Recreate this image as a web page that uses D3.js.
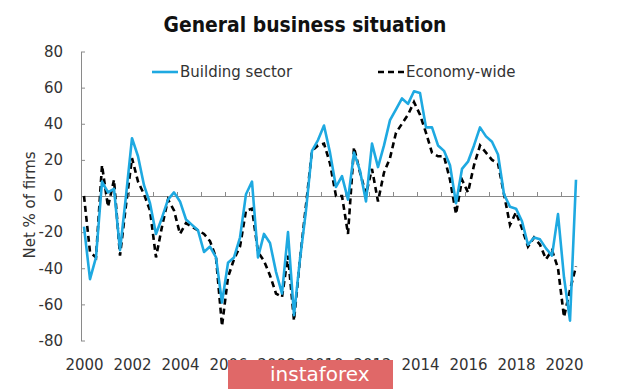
<!DOCTYPE html>
<html>
<head>
<meta charset="utf-8">
<script src="https://d3js.org/d3.v7.min.js"></script>
<style>
  body { margin: 0; background: #fff; }
  svg { display: block; font-family: "DejaVu Sans", sans-serif; }
</style>
</head>
<body>
<svg></svg>
<script>
    // quarterly, 2000Q1 .. 2020Q3
    const firstYear = 2000;
    const building = [
        -17, -46, -34, 8, 2, 4, -30, 0, 32, 22, 6, -4, -21, -12, -2, 2,
        -3, -13, -16, -19, -31, -28, -34, -59, -37, -34, -23, 1, 8, -34, -21, -26,
        -42, -54, -20, -66, -35, -8, 25, 31, 39, 24, 5, 11, -2, 24, 14, -3,
        29, 16, 28, 42, 48, 54, 51, 58, 57, 38, 38, 28, 25, 17, -4, 15,
        19, 28, 38, 33, 30, 23, 1, -6, -7, -14, -27, -23, -24, -29, -33, -10,
        -45, -69, 9
    ];
    const economy = [
        0, -31, -34, 17, -6, 9, -33, -5, 21, 8, 1, -8, -34, -17, -2, -8,
        -21, -15, -17, -19, -21, -25, -34, -72, -45, -35, -28, -8, -7, -31, -36, -44,
        -54, -56, -33, -69, -35, -5, 25, 28, 29, 18, 0, 0, -21, 27, 13, 1,
        15, -3, 13, 21, 35, 40, 45, 52, 45, 35, 24, 22, 22, 9, -10, 9,
        2, 17, 28, 24, 20, 18, 1, -16, -9, -18, -28, -23, -27, -35, -30, -40,
        -67, -52, -39
    ];
    const seriesNames = ["Building sector", "Economy-wide"];
    const yearLabels = [2000, 2002, 2004, 2006, 2008, 2010, 2012, 2014, 2016, 2018, 2020];
    const yTicks = [-80, -60, -40, -20, 0, 20, 40, 60, 80];

    const width = 620, height = 389;
    const blue = "#1ea9e1";
    const axisGrey = "#8a8a8a";

    const svg = d3.select("svg")
        .attr("width", width)
        .attr("height", height);

    // index of quarter -> x, one category per quarter
    const x = d3.scaleLinear()
        .domain([-0.5, building.length - 0.5])
        .range([81, 579]);
    const y = d3.scaleLinear()
        .domain([-80, 80])
        .range([340.5, 51.5]);
    const qIndex = yr => (yr - firstYear) * 4;

    // y axis, ticks pointing inward
    const yAxis = svg.append("g")
        .attr("transform", `translate(${x(-0.5)},0)`)
        .call(d3.axisLeft(y).tickValues(yTicks).tickSizeInner(-4).tickSizeOuter(0).tickPadding(18)
            .tickFormat(d => String(d)));
    yAxis.selectAll("path, line").attr("stroke", axisGrey);
    yAxis.selectAll("text").attr("font-size", 15).attr("fill", "#333").attr("font-family", "DejaVu Sans");

    // axis along zero, year ticks between categories
    const years = d3.range(firstYear, 2021);
    const zeroAxis = svg.append("g")
        .attr("transform", `translate(0,${y(0)})`)
        .call(d3.axisTop(x).tickValues(years.map(yr => qIndex(yr) - 0.5)).tickSize(4).tickSizeOuter(0).tickFormat(""));
    zeroAxis.selectAll("path, line").attr("stroke", axisGrey);

    // year labels at the bottom
    const xLabels = svg.append("g")
        .attr("transform", "translate(0,359)")
        .call(d3.axisBottom(x).tickValues(yearLabels.map(qIndex)).tickSize(0).tickPadding(0)
            .tickFormat((d, i) => yearLabels[i]));
    xLabels.select(".domain").remove();
    xLabels.selectAll("text").attr("font-size", 15).attr("fill", "#333").attr("font-family", "DejaVu Sans");

    const line = d3.line()
        .x((d, i) => x(i))
        .y(d => y(d));

    svg.append("path")
        .datum(economy)
        .attr("fill", "none")
        .attr("stroke", "#000")
        .attr("stroke-width", 2.6)
        .attr("stroke-dasharray", "6,4")
        .attr("d", line);

    svg.append("path")
        .datum(building)
        .attr("fill", "none")
        .attr("stroke", blue)
        .attr("stroke-width", 2.6)
        .attr("stroke-linejoin", "round")
        .attr("d", line);

    // legend
    const legend = [
        {name: seriesNames[0], x: 152, color: blue, dash: null},
        {name: seriesNames[1], x: 378, color: "#000", dash: "6,4"}
    ];
    const lg = svg.selectAll(".legend")
        .data(legend)
        .join("g")
        .attr("class", "legend")
        .attr("transform", d => `translate(${d.x},72)`);
    lg.append("line")
        .attr("x1", 0).attr("x2", 26)
        .attr("stroke", d => d.color)
        .attr("stroke-width", 2.6)
        .attr("stroke-dasharray", d => d.dash);
    lg.append("text")
        .attr("x", 28)
        .attr("dy", "0.35em")
        .attr("font-size", 15)
        .attr("fill", "#333")
        .text(d => d.name);

    // title
    svg.append("text")
        .attr("x", 305)
        .attr("y", 32)
        .attr("text-anchor", "middle")
        .attr("font-size", 22)
        .attr("font-weight", "bold")
        .attr("fill", "#111")
        .attr("textLength", 283)
        .attr("lengthAdjust", "spacingAndGlyphs")
        .text("General business situation");

    // y label
    svg.append("text")
        .attr("transform", "translate(30,205) rotate(-90)")
        .attr("text-anchor", "middle")
        .attr("dy", "0.35em")
        .attr("font-size", 15)
        .attr("fill", "#333")
        .text("Net % of firms");

    // watermark strip
    svg.append("rect")
        .attr("x", 228).attr("y", 360)
        .attr("width", 165).attr("height", 29)
        .attr("fill", "#e06868");
    svg.append("text")
        .attr("x", 270)
        .attr("y", 381)
        .attr("font-size", 20)
        .attr("fill", "#fff")
        .text("instaforex");
</script>
</body>
</html>
